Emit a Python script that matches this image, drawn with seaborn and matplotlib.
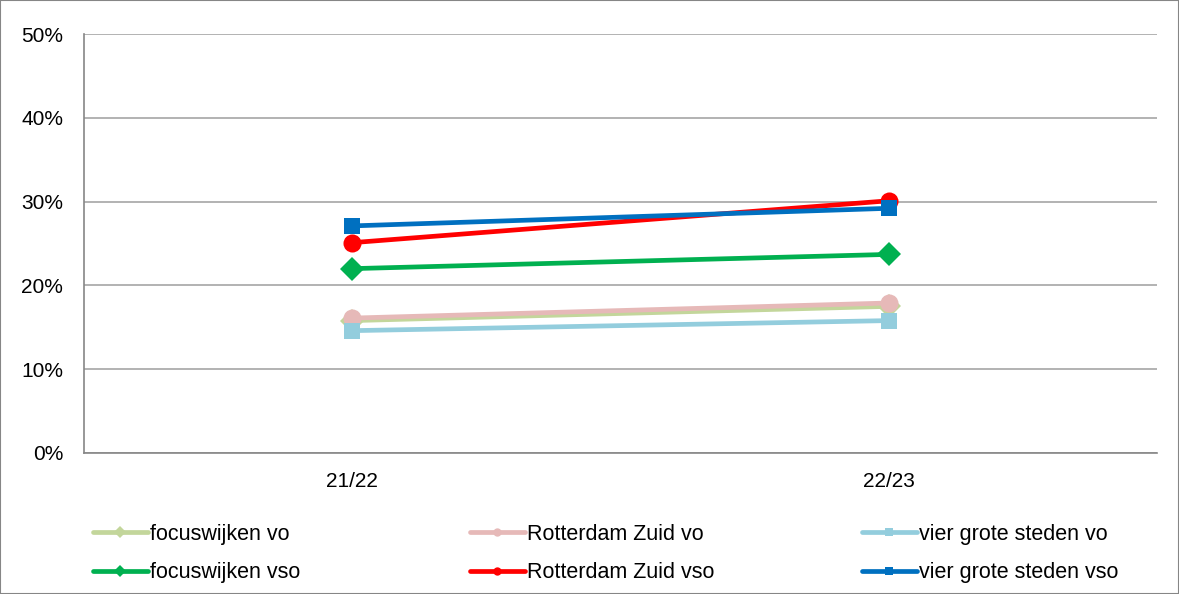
import matplotlib
matplotlib.use("Agg")
import matplotlib.pyplot as plt
import seaborn as sns
import pandas as pd
from matplotlib.patches import Rectangle

years = ["21/22", "22/23"]
focuswijken_vo = [15.8, 17.5]
rotterdam_zuid_vo = [16.1, 17.9]
vier_grote_steden_vo = [14.6, 15.8]
focuswijken_vso = [22.0, 23.7]
rotterdam_zuid_vso = [25.1, 30.1]
vier_grote_steden_vso = [27.1, 29.2]

series = [
    ("focuswijken vo", focuswijken_vo, "#C3D69B", "D"),
    ("focuswijken vso", focuswijken_vso, "#00B050", "D"),
    ("Rotterdam Zuid vo", rotterdam_zuid_vo, "#E6B9B8", "o"),
    ("Rotterdam Zuid vso", rotterdam_zuid_vso, "#FF0000", "o"),
    ("vier grote steden vo", vier_grote_steden_vo, "#93CDDD", "s"),
    ("vier grote steden vso", vier_grote_steden_vso, "#0070C0", "s"),
]
# vo lines first, vso on top
draw_order = [0, 2, 4, 1, 3, 5]

sns.set_style("white")
plt.rcParams["font.family"] = ["Liberation Sans", "DejaVu Sans"]
plt.rcParams["text.color"] = "black"
plt.rcParams["xtick.labelcolor"] = "black"
plt.rcParams["ytick.labelcolor"] = "black"

fig = plt.figure(figsize=(11.79, 5.94), dpi=100)
ax = fig.add_axes([84 / 1179, 141 / 594, 1073 / 1179, 419 / 594])

handles = {}
for i in draw_order:
    name, vals, color, marker = series[i]
    df = pd.DataFrame({"jaar": years, "pct": vals})
    ms = 12 if marker == "D" else (13 if marker == "o" else 11.5)
    sns.lineplot(data=df, x="jaar", y="pct", ax=ax, color=color, linewidth=3.4,
                 marker=marker, markersize=ms, markeredgewidth=0, label=name,
                 legend=False, zorder=3)
    handles[i] = plt.Line2D([], [], color=color, linewidth=3.4, marker=marker,
                            markersize=6, markeredgewidth=0)

ax.set_xlim(-0.5, 1.5)
ax.set_ylim(0, 50)
ax.set_yticks([0, 10, 20, 30, 40, 50])
ax.set_yticklabels([f"{v}%" for v in range(0, 60, 10)])
ax.set_xticks([0, 1])
ax.set_xticklabels(years)
ax.set_xticks([-0.5, 0.5, 1.5], minor=True)
ax.tick_params(axis="x", which="major", length=0, pad=14, labelsize=15)
ax.tick_params(axis="x", which="minor", length=6, color="#868686", width=1.2)
ax.tick_params(axis="y", length=5, color="#868686", width=1.2, labelsize=15, pad=10)
ax.set_xlabel("")
ax.set_ylabel("")
ax.yaxis.grid(True, color="#A6A6A6", linewidth=1.2)
ax.set_axisbelow(True)
for s in ["top", "right"]:
    ax.spines[s].set_visible(False)
for s in ["left", "bottom"]:
    ax.spines[s].set_color("#868686")
    ax.spines[s].set_linewidth(1.2)

# one legend per column so the columns sit where they do in the original
col_x = [93, 470, 862]
for c in range(3):
    idx = [2 * c, 2 * c + 1]
    fig.legend([handles[i] for i in idx], [series[i][0] for i in idx],
               loc="upper left", bbox_to_anchor=(col_x[c] / 1179, 1 - 524 / 594),
               frameon=False, fontsize=15.5, handlelength=2.55,
               handletextpad=0.1, labelspacing=0.8, borderpad=0, borderaxespad=0)

fig.patches.append(Rectangle((0, 0), 1, 1, transform=fig.transFigure, fill=False,
                             edgecolor="#868686", linewidth=1.5))

fig.savefig("out.png", dpi=100)
